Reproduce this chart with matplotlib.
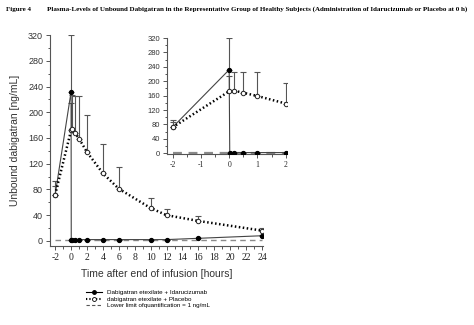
import matplotlib.pyplot as plt
from matplotlib.ticker import MultipleLocator
from matplotlib.lines import Line2D

plt.rcParams['axes.unicode_minus'] = False

# Dabigatran etexilate + Idarucizumab
ida_t = [-2, 0, 0.02, 0.17, 0.5, 1, 2, 4, 6, 10, 12, 16, 24]
ida_y = [72, 232, 2, 2, 2, 2, 2, 2, 2, 2, 2, 4, 8]
ida_err = [14, 88, 0, 0, 0, 0, 0, 0, 0, 0, 0, 0, 1]

# dabigatran etexilate + Placebo
pla_t = [-2, 0, 0.17, 0.5, 1, 2, 4, 6, 10, 12, 16, 24]
pla_y = [72, 172, 174, 168, 159, 138, 105, 81, 51, 40, 31, 16]
pla_err = [21, 43, 53, 57, 66, 58, 46, 34, 15, 10, 8, 4]

lloq = 1
lloq_t = [-2, 24]

serif = 'Liberation Serif'
sans = 'Liberation Sans'


def draw(ax, lw_scale=1.0):
    ax.plot(lloq_t, [lloq, lloq], color='#8a8a8a', ls=(0, (4, 3)), lw=1.0 * lw_scale, zorder=1)
    ax.errorbar(ida_t, ida_y, yerr=[[0] * len(ida_err), ida_err], fmt='none',
                ecolor='#555555', elinewidth=0.8, capsize=2, capthick=0.8, zorder=2)
    ax.errorbar(pla_t, pla_y, yerr=[[0] * len(pla_err), pla_err], fmt='none',
                ecolor='#555555', elinewidth=0.8, capsize=2, capthick=0.8, zorder=2)
    ax.plot(ida_t, ida_y, color='#444444', lw=0.8, marker='o', ms=2.8,
            mfc='black', mec='black', zorder=3)
    ax.plot(pla_t, pla_y, color='black', lw=1.8, ls=(0, (0.6, 1.0)), zorder=3)
    ax.plot(pla_t, pla_y, ls='none', marker='o', ms=3.2, mfc='white',
            mec='#222222', mew=0.7, zorder=4)
    for s in ['top', 'right']:
        ax.spines[s].set_visible(False)
    for s in ['left', 'bottom']:
        ax.spines[s].set_color('#555555')
        ax.spines[s].set_linewidth(0.8)
    ax.tick_params(which='both', direction='out', color='#555555', width=0.7)
    ax.tick_params(which='major', length=3, pad=2)
    ax.tick_params(which='minor', length=1.8)


fig = plt.figure(figsize=(4.74, 3.25), dpi=100)

fig.text(0.012, 0.98, 'Figure 4', fontsize=5.05, fontweight='bold', family=serif, va='top')
fig.text(0.099, 0.98, 'Plasma-Levels of Unbound Dabigatran in the Representative Group of Healthy '
         'Subjects (Administration of Idarucizumab or Placebo at 0 h)',
         fontsize=5.05, fontweight='bold', family=serif, va='top')

ax = fig.add_axes([0.1055, 0.243, 0.449, 0.649])
draw(ax)
ax.set_xlim(-2.65, 24.1)
ax.set_ylim(-8, 320)
ax.set_xticks(range(-2, 25, 2))
ax.xaxis.set_minor_locator(MultipleLocator(1))
ax.set_yticks(range(0, 321, 40))
ax.yaxis.set_minor_locator(MultipleLocator(20))
for lab in ax.get_xticklabels():
    lab.set_family(serif)
    lab.set_fontsize(7)
    lab.set_color('#222222')
for lab in ax.get_yticklabels():
    lab.set_family(sans)
    lab.set_fontsize(6.5)
    lab.set_color('#333333')
ax.set_xlabel('Time after end of infusion [hours]', family=sans, fontsize=7.5,
              color='#333333', labelpad=5)
ax.set_ylabel('Unbound dabigatran [ng/mL]', family=sans, fontsize=7.5,
              color='#333333', labelpad=6)

inset = fig.add_axes([0.352, 0.525, 0.254, 0.358])
draw(inset, lw_scale=1.6)
inset.set_xlim(-2.2, 2.05)
inset.set_ylim(-3, 320)
inset.set_xticks([-2, -1, 0, 1, 2])
inset.xaxis.set_minor_locator(MultipleLocator(0.5))
inset.set_yticks(range(0, 321, 40))
inset.yaxis.set_minor_locator(MultipleLocator(20))
for lab in inset.get_xticklabels():
    lab.set_family(serif)
    lab.set_fontsize(5.5)
    lab.set_color('#222222')
for lab in inset.get_yticklabels():
    lab.set_family(sans)
    lab.set_fontsize(5.5)
    lab.set_color('#333333')

handles = [
    Line2D([], [], color='black', lw=0.8, marker='o', ms=2.5, mfc='black'),
    Line2D([], [], color='black', lw=1.5, ls=(0, (0.6, 1.0)), marker='o', ms=2.8,
           mfc='white', mec='black', mew=0.6),
    Line2D([], [], color='#555555', lw=0.8, ls=(0, (3, 2))),
]
labels = ['Dabigatran etexilate + Idarucizumab', 'dabigatran etexilate + Placebo',
          'Lower limit ofquantification = 1 ng/mL']
fig.legend(handles, labels, loc='upper left', bbox_to_anchor=(0.175, 0.118),
           frameon=False, handlelength=2.6, handletextpad=0.8,
           labelspacing=0.2, borderpad=0, prop={'family': sans, 'size': 4.5})

plt.savefig('out.png', dpi=100)
